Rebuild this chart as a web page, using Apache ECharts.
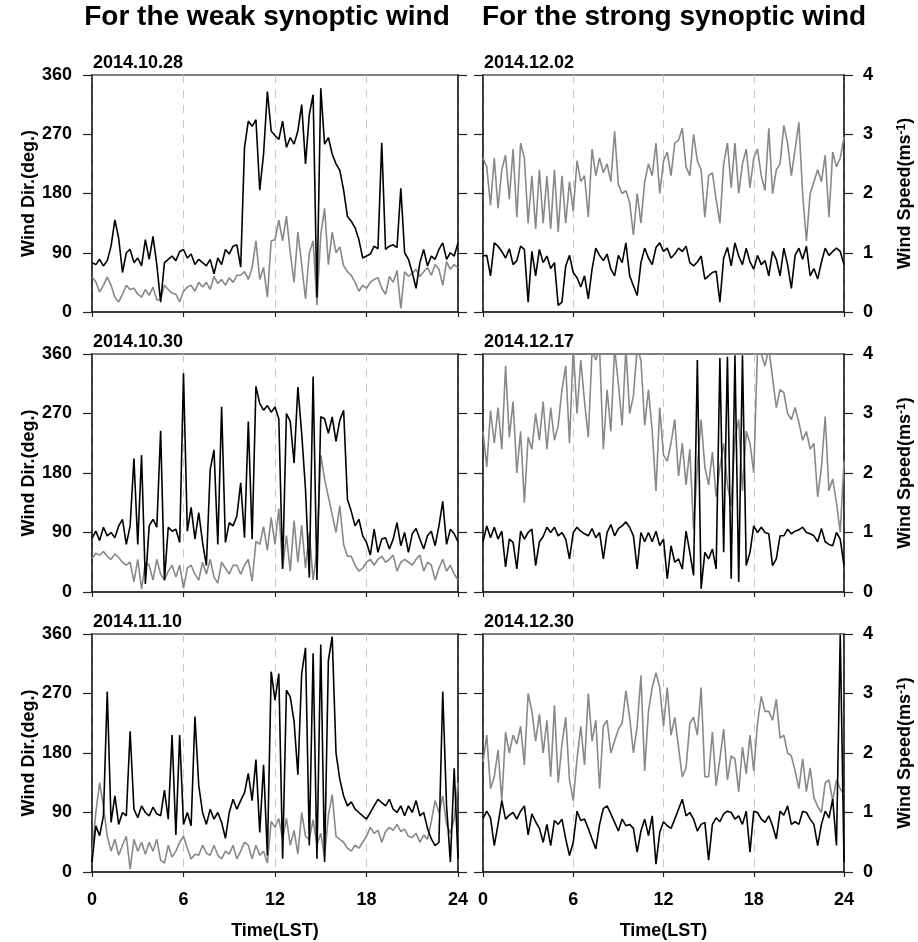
<!doctype html>
<html lang="en">
<head>
  <meta charset="utf-8">
  <title>Wind direction and speed</title>
  <script src="https://cdn.jsdelivr.net/npm/echarts@6.0.0/dist/echarts.min.js"></script>
  <style>
    html, body { margin: 0; padding: 0; background: #fff; }
    #chart { width: 918px; height: 942px; }
  </style>
</head>
<body>
  <div id="chart"></div>
  <script type="text/javascript">
    // 15-minute samples, 00 LST .. 24 LST (97 points)
    // wind direction in degrees (black), wind speed in m/s (grey)
    const dir1028 = [75,72,80,70,78,100,140,112,60,90, 95,75,82,70,110,80,115,72,15,75,
      80,85,78,92,95,82,88,72,80,75, 70,80,58,82,72,95,88,100,102,68,
      250,290,282,292,185,240,335,275,268,262, 290,250,265,255,275,315,225,300,330,22,
      340,255,265,240,225,215,185,145,138,128, 110,82,85,88,100,96,257,95,100,102,
      98,188,90,80,60,36,75,95,70,85, 80,95,105,80,90,85,105];
    const spd1028 = [0.59,0.51,0.34,0.45,0.59,0.45,0.25,0.17,0.3,0.45, 0.38,0.4,0.3,0.25,0.38,0.28,0.42,0.2,0.22,0.45,
      0.38,0.32,0.3,0.17,0.35,0.42,0.45,0.35,0.5,0.42, 0.5,0.38,0.6,0.48,0.55,0.45,0.58,0.5,0.62,0.62,
      0.68,0.55,0.75,1.2,0.55,0.75,0.25,1.2,1.22,1.55, 1.2,1.62,1.0,0.5,1.35,0.8,0.22,1.0,1.2,0.12,
      1.3,1.75,0.8,1.35,1.0,1.1,0.78,0.68,0.62,0.5, 0.35,0.45,0.4,0.5,0.55,0.58,0.4,0.3,0.6,0.5,
      0.7,0.06,0.68,0.6,0.65,0.72,0.6,0.68,0.75,0.62, 0.8,0.72,0.45,0.85,0.72,0.8,0.75];

    const dir1030 = [81,92,78,98,85,90,82,100,110,72, 100,202,72,207,12,100,110,98,244,18,
      98,92,95,75,331,92,128,80,120,75, 40,185,215,72,280,75,105,100,115,165,
      82,258,80,311,285,275,282,272,280,262, 35,270,258,195,310,240,155,22,326,18,
      265,262,240,265,228,260,275,140,122,100, 110,85,75,56,95,60,80,82,65,80,
      105,70,90,60,88,96,80,65,85,92, 70,100,137,72,95,88,76];
    const spd1030 = [0.56,0.65,0.62,0.68,0.6,0.55,0.64,0.58,0.5,0.45, 0.5,0.17,0.55,0.05,0.5,0.45,0.2,0.55,0.3,0.2,
      0.35,0.45,0.25,0.45,0.06,0.4,0.45,0.3,0.2,0.5, 0.3,0.55,0.25,0.15,0.5,0.4,0.3,0.45,0.45,0.3,
      0.45,0.55,0.18,0.85,0.8,1.1,0.7,1.25,0.8,1.4, 0.4,0.95,0.35,1.2,0.5,1.12,0.4,1.0,0.2,0.7,
      2.3,1.9,1.6,1.3,1.0,1.45,0.8,0.6,0.6,0.45, 0.35,0.4,0.5,0.55,0.45,0.55,0.6,0.5,0.55,0.62,
      0.35,0.5,0.55,0.5,0.45,0.55,0.62,0.35,0.5,0.45, 0.2,0.4,0.55,0.35,0.45,0.3,0.2];

    const dir1110 = [15,70,55,85,273,75,115,72,90,85, 213,95,82,100,90,85,98,88,85,124,
      80,207,56,207,72,90,70,235,131,90, 72,95,80,90,75,51,90,110,95,108,
      120,149,108,170,60,162,25,303,260,300, 20,275,265,228,147,300,339,40,331,20,
      344,15,320,356,180,140,115,100,106,95, 90,85,80,90,100,110,105,100,110,95,
      90,100,85,100,90,108,85,90,66,50, 40,45,273,100,15,157,20];
    const spd1110 = [0.28,1.0,1.5,1.1,0.6,0.35,0.55,0.28,0.45,0.6, 0.05,0.55,0.35,0.5,0.3,0.5,0.35,0.55,0.2,0.15,
      0.45,0.25,0.35,0.5,0.6,0.4,0.22,0.3,0.28,0.45, 0.32,0.28,0.45,0.28,0.22,0.35,0.3,0.45,0.22,0.35,
      0.5,0.45,0.22,0.45,0.28,0.35,0.15,0.85,0.75,0.9, 0.55,0.9,0.45,0.7,0.3,1.0,0.6,0.55,0.88,0.45,
      0.65,0.25,0.95,1.3,0.6,0.55,0.5,0.4,0.35,0.45, 0.4,0.5,0.6,0.75,0.65,0.7,0.5,0.68,0.75,0.7,
      0.8,0.68,0.72,0.6,0.58,0.65,0.5,0.62,0.55,0.85, 1.2,1.0,1.28,0.8,0.65,0.9,1.5];

    const dir1202 = [85,86,55,105,100,92,82,96,72,78, 100,95,15,92,55,95,75,85,66,75,
      10,15,70,86,60,52,38,55,20,65, 97,86,78,88,65,55,86,75,105,55,
      40,25,75,97,82,72,98,105,92,97, 82,88,97,92,100,75,70,76,85,50,
      55,60,62,15,82,98,70,105,85,72, 97,76,65,86,72,78,55,92,80,55,
      97,72,36,86,97,80,100,55,66,50, 76,97,86,92,97,92,72];
    const spd1202 = [2.6,2.45,1.8,2.6,1.75,2.4,2.65,1.9,2.75,1.6, 2.85,2.6,1.5,2.3,1.4,2.4,1.5,2.3,1.4,2.4,
      1.35,2.3,1.5,2.2,1.7,2.55,2.2,2.3,1.6,2.75, 2.3,2.6,2.35,2.5,2.2,3.05,2.15,2.0,2.05,1.85,
      1.3,2.0,1.5,2.2,2.5,2.3,2.85,2.0,2.55,2.7, 2.3,2.85,2.9,3.1,2.45,2.3,3.0,2.55,2.4,1.6,
      2.3,2.35,1.9,1.5,2.5,2.85,2.1,2.85,2.0,2.5, 2.75,2.1,2.6,2.75,2.3,2.05,3.1,2.0,2.4,2.5,
      3.15,2.85,2.3,2.75,3.2,2.0,1.2,2.0,2.2,2.4, 2.2,2.65,1.6,2.7,2.45,2.6,2.95];

    const dir1217 = [76,100,82,98,80,92,38,80,75,35, 92,80,90,95,40,76,84,98,90,98,
      85,90,80,50,90,98,92,88,85,96, 82,90,50,90,102,85,96,100,106,98,
      85,35,90,76,90,76,92,70,80,20, 70,45,50,35,92,60,25,351,5,60,
      50,65,35,354,60,356,20,358,15,358, 40,60,100,90,98,90,88,40,50,85,
      85,95,88,92,94,98,90,88,85,76, 96,76,72,70,90,80,40];
    const spd1217 = [2.7,2.1,3.05,2.5,3.1,2.4,3.8,2.6,3.2,2.0, 2.7,1.5,2.6,2.4,3.0,2.55,3.2,2.4,3.1,2.55,
      2.8,3.4,3.8,2.5,4.1,3.0,3.9,3.2,2.6,4.05, 3.9,4.1,2.4,3.4,2.7,4.1,3.5,2.8,4.1,3.0,
      3.3,4.1,3.9,2.8,3.4,2.7,1.7,3.1,2.3,2.2, 2.5,2.9,1.95,2.5,1.8,2.4,1.05,2.1,2.9,2.1,
      1.8,2.35,1.6,2.1,2.5,1.8,1.45,2.6,2.9,1.7, 2.7,2.5,2.0,4.1,4.0,3.8,4.1,3.6,3.1,3.4,
      3.35,3.0,2.9,3.1,2.85,2.55,2.7,2.4,2.5,1.6, 2.1,2.95,1.7,1.9,1.5,1.0,2.2];

    const dir1230 = [81,92,82,40,72,108,80,86,90,80, 92,100,56,88,76,66,45,72,40,78,
      72,80,50,25,45,92,78,80,66,50, 35,72,96,100,88,75,62,80,70,72,
      66,30,62,80,55,85,12,60,76,70, 66,80,95,110,85,90,80,62,72,75,
      18,72,82,76,88,92,90,80,85,72, 92,30,92,90,80,75,85,70,50,92,
      86,100,72,76,72,92,90,80,72,40, 72,92,82,110,40,359,15];
    const spd1230 = [1.85,2.3,1.4,1.6,2.05,1.2,2.35,2.0,2.3,2.15, 2.45,1.8,3.0,2.7,2.2,2.65,2.0,2.55,1.6,2.8,
      1.5,2.15,2.6,1.55,1.2,1.9,2.45,1.8,3.0,2.2, 2.55,1.4,2.45,2.55,2.0,2.2,2.4,2.5,3.05,2.6,
      2.0,2.45,3.3,1.7,2.7,3.1,3.35,3.1,2.45,3.1, 2.3,2.6,2.1,1.6,1.75,2.5,2.6,2.3,3.1,1.6,
      1.6,2.35,1.45,1.9,2.4,1.55,1.95,1.9,1.35,2.1, 1.65,2.3,1.7,2.5,2.95,2.7,2.7,2.55,2.9,2.25,
      2.3,2.0,1.95,1.7,1.4,1.9,1.35,1.75,1.25,1.1, 1.0,1.5,1.55,1.2,1.55,1.4,1.3];

    const hourTicks = [0, 6, 12, 18, 24];
    const dirTicks = [0, 90, 180, 270, 360];
    const spdTicks = [0, 1, 2, 3, 4];

    const panels = [
      { date: '2014.10.28', dir: dir1028, spd: spd1028, col: 0, row: 0 },
      { date: '2014.10.30', dir: dir1030, spd: spd1030, col: 0, row: 1 },
      { date: '2014.11.10', dir: dir1110, spd: spd1110, col: 0, row: 2 },
      { date: '2014.12.02', dir: dir1202, spd: spd1202, col: 1, row: 0 },
      { date: '2014.12.17', dir: dir1217, spd: spd1217, col: 1, row: 1 },
      { date: '2014.12.30', dir: dir1230, spd: spd1230, col: 1, row: 2 }
    ];

    const FONT = '"Liberation Sans", Arial, sans-serif';
    const colLeft = [92, 483];
    const colWidth = [366, 361];
    const rowTop = [75, 354, 634];
    const rowHeight = [237, 238, 238];
    const axisColor = '#222';
    const labelStyle = { color: '#000', fontFamily: FONT, fontSize: 18, fontWeight: 'bold' };

    const grid = [], xAxis = [], yAxis = [], series = [];
    const graphic = [
      { type: 'text', x: 267, y: 3, style: { text: 'For the weak synoptic wind', font: 'bold 28px ' + FONT,
        fill: '#000', align: 'center', textAlign: 'center', verticalAlign: 'top', textVerticalAlign: 'top' } },
      { type: 'text', x: 674, y: 3, style: { text: 'For the strong synoptic wind', font: 'bold 28px ' + FONT,
        fill: '#000', align: 'center', textAlign: 'center', verticalAlign: 'top', textVerticalAlign: 'top' } }
    ];

    panels.forEach((p, k) => {
      const hours = p.dir.map((_, j) => j * 24 / (p.dir.length - 1));
      const bottom = p.row === 2;
      grid.push({
        left: colLeft[p.col], top: rowTop[p.row], width: colWidth[p.col], height: rowHeight[p.row],
        show: true, borderColor: '#555', borderWidth: 1.5, backgroundColor: 'transparent'
      });
      xAxis.push({
        gridIndex: k, type: 'value', min: hourTicks[0], max: hourTicks[4], interval: 6,
        axisLine: { show: true, onZero: false, lineStyle: { color: axisColor, width: 1.5 } },
        axisTick: { show: true, length: 5, lineStyle: { color: axisColor, width: 1.2 } },
        axisLabel: Object.assign({ show: bottom, margin: 19 }, labelStyle),
        splitLine: { show: true, lineStyle: { color: '#c8c8c8', width: 1, type: [8, 7] } },
        name: bottom ? 'Time(LST)' : '', nameLocation: 'middle', nameGap: 50,
        nameTextStyle: labelStyle
      });
      yAxis.push({
        gridIndex: k, type: 'value', position: 'left', min: dirTicks[0], max: dirTicks[4], interval: 90,
        axisLine: { show: true, onZero: false, lineStyle: { color: axisColor, width: 1.5 } },
        axisTick: { show: true, length: 9, lineStyle: { color: axisColor, width: 1.2 } },
        axisLabel: Object.assign({ show: p.col === 0, margin: 20 }, labelStyle),
        splitLine: { show: false },
        name: p.col === 0 ? 'Wind Dir.(deg.)' : '', nameLocation: 'middle', nameRotate: 90, nameGap: 50,
        nameTextStyle: labelStyle
      });
      yAxis.push({
        gridIndex: k, type: 'value', position: 'right', min: spdTicks[0], max: spdTicks[4], interval: 1,
        axisLine: { show: true, onZero: false, lineStyle: { color: axisColor, width: 1.5 } },
        axisTick: { show: true, length: 9, lineStyle: { color: axisColor, width: 1.2 } },
        axisLabel: Object.assign({ show: p.col === 1, margin: 19 }, labelStyle),
        splitLine: { show: false },
        name: p.col === 1 ? 'Wind Speed(ms{s|-1})' : '', nameLocation: 'middle', nameRotate: 90, nameGap: 52,
        nameTextStyle: Object.assign({
          rich: { s: { fontFamily: FONT, fontSize: 12, fontWeight: 'bold', color: '#000', verticalAlign: 'top' } }
        }, labelStyle)
      });
      series.push({
        type: 'line', xAxisIndex: k, yAxisIndex: 2 * k + 1, showSymbol: false, silent: true, z: 2,
        data: p.spd.map((v, j) => [hours[j], v]),
        lineStyle: { color: '#888', width: 1.6 }
      });
      series.push({
        type: 'line', xAxisIndex: k, yAxisIndex: 2 * k, showSymbol: false, silent: true, z: 3,
        data: p.dir.map((v, j) => [hours[j], v]),
        lineStyle: { color: '#000', width: 1.6 }
      });
      graphic.push({
        type: 'text', x: colLeft[p.col] + 1, y: rowTop[p.row] - 21,
        style: { text: p.date, font: 'bold 18px ' + FONT, fill: '#000' }
      });
    });

    const chart = echarts.init(document.getElementById('chart'), null, { renderer: 'canvas' });
    chart.setOption({
      animation: false,
      backgroundColor: '#fff',
      grid: grid,
      xAxis: xAxis,
      yAxis: yAxis,
      series: series,
      graphic: graphic
    });
  </script>
</body>
</html>
